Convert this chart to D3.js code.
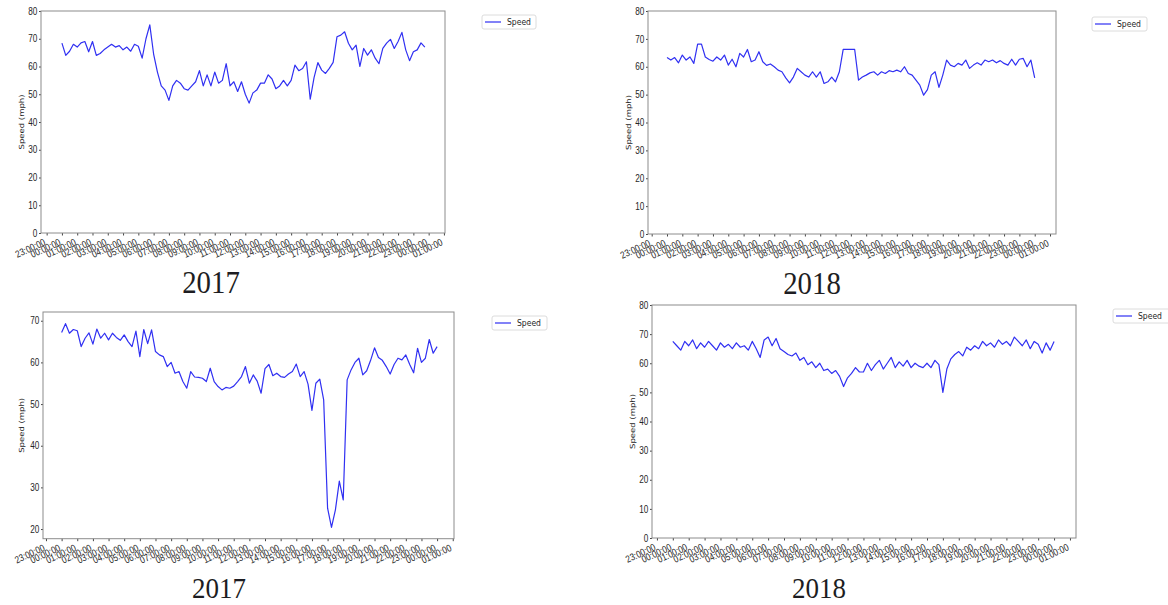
<!DOCTYPE html>
<html>
<head>
<meta charset="utf-8">
<script src="https://cdn.jsdelivr.net/npm/d3@7"></script>
<style>
  body { margin: 0; background: #fff; }
  svg { display: block; }
</style>
</head>
<body>
<div id="chart"></div>
<script>
// one reading every 15 minutes, starting at 00:00
var STEP_HOURS = 0.25;

var timeLabels = ["23:00:00", "00:00:00", "01:00:00", "02:00:00", "03:00:00", "04:00:00",
    "05:00:00", "06:00:00", "07:00:00", "08:00:00", "09:00:00", "10:00:00", "11:00:00",
    "12:00:00", "13:00:00", "14:00:00", "15:00:00", "16:00:00", "17:00:00", "18:00:00",
    "19:00:00", "20:00:00", "21:00:00", "22:00:00", "23:00:00", "00:00:00", "01:00:00"];
var fullTicks = [0, 10, 20, 30, 40, 50, 60, 70, 80];
var zoomTicks = [20, 30, 40, 50, 60, 70];
var seriesName = "Speed";
var yAxisLabel = "Speed (mph)";

var speed2017Top = [68.4, 64, 65.5, 68, 67, 68.5, 69, 65.3, 69, 64, 64.7, 66,
    67, 68, 67, 67.5, 66, 67, 65.5, 68, 67.3, 63, 70, 75,
    64.5, 58, 53, 51.5, 47.8, 53, 55, 54, 52, 51.5, 53, 54.5,
    58.5, 53, 57, 53, 58, 54, 55, 61, 53, 54.5, 51, 54.5,
    50, 46.8, 50.5, 51.5, 54, 54, 57, 55.5, 52, 53, 55, 53,
    55, 60.5, 58.5, 59.3, 61.7, 48.2, 56, 61.4, 58.7, 57.5, 59.3, 61.5,
    70.7, 71.3, 72.5, 68.4, 66, 67.7, 60, 66.5, 64.1, 66, 63, 61,
    66.5, 68.4, 69.8, 66.5, 69, 72.3, 66, 62.1, 65.3, 66, 68.5, 67];

var speed2018Top = [63.3, 62.4, 63.3, 61.4, 64.2, 62.4, 63.5, 61.2, 68.1, 68.1, 63.5, 62.6,
    62, 63.5, 62.4, 64.2, 60.6, 62.7, 60, 64.8, 63.5, 66.2, 61.8, 62.4,
    65.4, 61.8, 60.5, 61, 60, 58.8, 58.2, 56, 54.2, 56.3, 59.4, 58.2,
    57, 56.3, 58.2, 56.3, 58.2, 54, 54.6, 56.3, 54.6, 58.2, 66.2, 66.2,
    66.2, 66.2, 55.2, 56.3, 57, 57.8, 58.2, 57, 58.2, 57.6, 58.6, 58.2,
    58.8, 58.2, 60, 57.6, 57, 55.2, 53.4, 49.8, 51.8, 57, 58.2, 52.6,
    57, 62.4, 60.6, 60, 61.2, 60.6, 62.4, 59.4, 60.6, 61.4, 60.6, 62.4,
    61.8, 62.4, 61.4, 62.2, 61.2, 60.6, 62.7, 60.6, 62.7, 63, 60, 62.4, 56];

var speed2017Bottom = [67.2, 69.3, 67, 67.9, 67.6, 63.8, 65.8, 67.1, 64.4, 68, 65.8, 67,
    65.4, 67, 66, 65.3, 66.6, 65, 63.8, 67.5, 61.4, 67.9, 64.5, 67.8,
    62.6, 61.8, 61.4, 59, 60, 57.4, 57.8, 55.4, 53.8, 57.8, 56.5, 56.4,
    56.2, 55.4, 58.6, 55.4, 54.2, 53.4, 54, 53.8, 54.3, 55.4, 56.6, 59,
    55, 57, 55.5, 52.6, 58.5, 59.5, 56.8, 57.4, 56.6, 56.4, 57.2, 57.8,
    59.6, 56.6, 57.8, 54.8, 48.5, 55, 56, 51, 25, 20.4, 24.6, 31.5,
    27, 55.8, 58.2, 60, 61, 57, 58, 60.5, 63.5, 61.2, 60.5, 59,
    57.2, 59.5, 61, 60.6, 61.8, 59.5, 57.5, 63.4, 60, 61, 65.5, 62.2, 63.8];

var speed2018Bottom = [67.5, 66, 64.5, 67.5, 66, 68, 65, 67, 65.5, 67.5, 66, 64.5,
    67, 65.5, 66.5, 65, 67, 65.5, 66, 64.5, 67.5, 65, 62, 68,
    69, 66, 68.5, 65, 64, 63, 62.5, 63.5, 61, 62, 59.5, 60.5,
    58.5, 60, 57.5, 58, 56.5, 57.5, 55.5, 52, 55, 56.5, 58.5, 57,
    57, 60, 57.5, 59.5, 61, 58, 60, 62, 58.5, 60.5, 59, 61,
    58.5, 60, 59, 58.5, 60, 58.5, 61, 59.5, 50, 58, 61.5, 63,
    64, 62.5, 65.5, 64.5, 66, 65, 67.5, 66, 67, 65.5, 68, 66.5,
    67.5, 66, 69, 67.5, 66, 68, 65, 67.5, 66.5, 63.5, 67, 64.5, 67.5];

var panels = [
    {values: speed2017Top, yTicks: fullTicks, caption: "2017",
     box: {left: 41, top: 11, right: 445, bottom: 233},
     hDomain: [-1.37, 25.07], yDomain: [0, 80], yLabelX: 24,
     legend: {x: 482, y: 15, w: 54, h: 14}, cap: {x: 211, y: 293, size: 32}},
    {values: speed2018Top, yTicks: fullTicks, caption: "2018",
     box: {left: 648, top: 11, right: 1056, bottom: 234},
     hDomain: [-1.24, 25.39], yDomain: [0, 80], yLabelX: 631,
     legend: {x: 1092, y: 17, w: 55, h: 14}, cap: {x: 812, y: 294, size: 32}},
    {values: speed2017Bottom, yTicks: zoomTicks, caption: "2017",
     box: {left: 43, top: 312, right: 454, bottom: 538.7},
     hDomain: [-1.19, 25.08], yDomain: [17.68, 72.1], yLabelX: 24,
     legend: {x: 492, y: 316, w: 55, h: 14}, cap: {x: 219, y: 598, size: 30}},
    {values: speed2018Bottom, yTicks: fullTicks, caption: "2018",
     box: {left: 652, top: 305, right: 1076, bottom: 538},
     hDomain: [-1.31, 25.38], yDomain: [0, 80], yLabelX: 635,
     legend: {x: 1113, y: 309, w: 60, h: 14}, cap: {x: 819, y: 598, size: 30}}
];

var lineColor = "#3030f2";

var svg = d3.select("#chart")
    .append("svg")
    .attr("width", 1168)
    .attr("height", 605)
    .style("font-family", "'DejaVu Sans', sans-serif");

svg.append("rect")
    .attr("width", 1168)
    .attr("height", 605)
    .attr("fill", "#fff");

function drawPanel(p) {
    var x = d3.scaleLinear()
        .domain(p.hDomain)
        .range([p.box.left, p.box.right]);
    var y = d3.scaleLinear()
        .domain(p.yDomain)
        .range([p.box.bottom, p.box.top]);

    var g = svg.append("g");

    // time axis, labels tilted and squeezed like the source figure
    var xAxis = g.append("g")
        .attr("transform", "translate(0," + p.box.bottom + ")")
        .attr("font-family", "'DejaVu Sans', sans-serif")
        .attr("font-size", 9)
        .call(d3.axisBottom(x)
            .tickValues(timeLabels.map(function (d, i) { return i - 1; }))
            .tickFormat(function (d, i) { return timeLabels[i]; })
            .tickSize(2.5)
            .tickSizeOuter(0));
    xAxis.select(".domain").remove();
    xAxis.selectAll(".tick line").attr("stroke", "#444");
    xAxis.selectAll(".tick text")
        .attr("x", 0)
        .attr("y", 0)
        .attr("dy", "0.72em")
        .attr("text-anchor", "end")
        .attr("fill", "#262626")
        .attr("transform", "translate(-4,5) rotate(-25) scale(0.82,1)");

    var yAxis = g.append("g")
        .attr("transform", "translate(" + p.box.left + ",0)")
        .attr("font-family", "'DejaVu Sans', sans-serif")
        .attr("font-size", 9)
        .call(d3.axisLeft(y).tickValues(p.yTicks).tickSize(2).tickSizeOuter(0));
    yAxis.select(".domain").remove();
    yAxis.selectAll(".tick line").attr("stroke", "#444");
    yAxis.selectAll(".tick text")
        .attr("x", -4.5)
        .attr("fill", "#262626")
        .attr("transform", "scale(0.82,1)");

    // frame
    g.append("rect")
        .attr("x", p.box.left)
        .attr("y", p.box.top)
        .attr("width", p.box.right - p.box.left)
        .attr("height", p.box.bottom - p.box.top)
        .attr("fill", "none")
        .attr("stroke", "#8c8c8c")
        .attr("stroke-width", 1);

    g.append("text")
        .attr("transform", "translate(" + p.yLabelX + "," + ((p.box.top + p.box.bottom) / 2) +
            ") scale(0.82,1) rotate(-90)")
        .attr("text-anchor", "middle")
        .attr("font-size", 8.5)
        .attr("fill", "#262626")
        .text(yAxisLabel);

    var line = d3.line()
        .x(function (d, i) { return x(i * STEP_HOURS); })
        .y(function (d) { return y(d); });

    g.append("path")
        .datum(p.values)
        .attr("d", line)
        .attr("fill", "none")
        .attr("stroke", lineColor)
        .attr("stroke-width", 1.2)
        .attr("stroke-linejoin", "round");

    // legend
    var lg = g.append("g")
        .attr("transform", "translate(" + p.legend.x + "," + p.legend.y + ")");
    lg.append("rect")
        .attr("width", p.legend.w)
        .attr("height", p.legend.h)
        .attr("rx", 2)
        .attr("fill", "#fff")
        .attr("stroke", "#dcdcdc");
    lg.append("rect")
        .attr("x", 3)
        .attr("y", p.legend.h / 2 - 0.6)
        .attr("width", 16)
        .attr("height", 1.2)
        .attr("fill", lineColor);
    lg.append("text")
        .attr("transform", "translate(25," + (p.legend.h / 2) + ") scale(0.85,1)")
        .attr("dy", "0.35em")
        .attr("font-size", 9)
        .attr("fill", "#262626")
        .text(seriesName);

    g.append("text")
        .attr("transform", "translate(" + p.cap.x + "," + p.cap.y + ") scale(0.9,1)")
        .attr("text-anchor", "middle")
        .style("font-family", "'Liberation Serif', 'Times New Roman', serif")
        .attr("font-size", p.cap.size)
        .attr("fill", "#1d1d22")
        .text(p.caption);
}

panels.forEach(drawPanel);
</script>
</body>
</html>
